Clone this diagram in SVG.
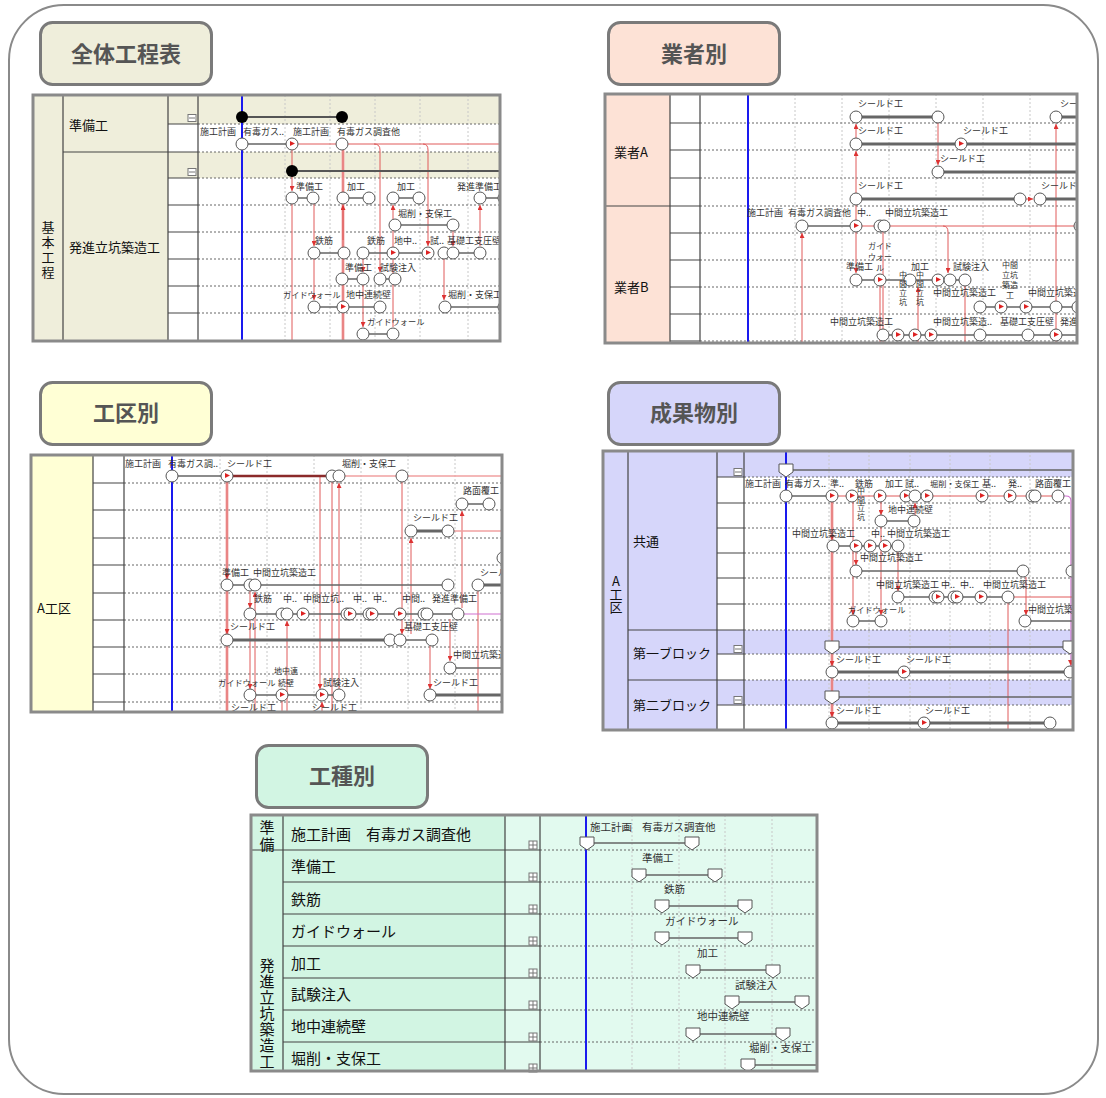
<svg xmlns="http://www.w3.org/2000/svg" width="1106" height="1098" viewBox="0 0 1106 1098">
<style>
text{font-family:"Noto Sans CJK JP","Noto Sans",sans-serif;}
.ttl{font-size:22px;font-weight:bold;fill:#555;text-anchor:middle;}
.tb{stroke:#7a7a7a;stroke-width:3;}
.h{font-size:13px;fill:#111;}
.h5{font-size:15px;fill:#111;}
.l{font-size:9px;fill:#333;}
.g{font-size:8.2px;fill:#333;}
.l5{font-size:10.5px;fill:#333;}
.w{font-size:8px;fill:#333;text-anchor:middle;}
.v{writing-mode:vertical-rl;text-orientation:upright;}
.fr{fill:none;stroke:#8a8a8a;stroke-width:3;}
.sl{stroke:#444;stroke-width:1.2;fill:none;}
.rw{stroke:#666;stroke-width:1;stroke-dasharray:2 2;fill:none;}
.gd{stroke:#c8c8c8;stroke-width:1;stroke-dasharray:2 2;fill:none;}
.bl{stroke:#1a1aee;stroke-width:2;}
.br{stroke:#666;stroke-width:1.5;fill:none;}
.bt{stroke:#666;stroke-width:3;fill:none;}
.rd{stroke:#e05a5a;stroke-width:1;fill:none;}
.pk{stroke:#f2b0b0;stroke-width:3;fill:none;}
.pt{stroke:#f0a0a0;stroke-width:1.5;fill:none;}
.mg{stroke:#d070d0;stroke-width:1.2;fill:none;}
</style>
<defs>
<marker id="a" viewBox="0 0 6 6" refX="6" refY="3" markerWidth="5" markerHeight="5" orient="auto"><path d="M0,0L6,3L0,6Z" fill="#d33"/></marker>
<circle id="c" r="6" fill="#fff" stroke="#555"/>
<g id="f"><circle r="6" fill="#fff" stroke="#555"/><path d="M-2,-3L3,-0.5L-2,2Z" fill="#d22"/></g>
<circle id="k" r="6" fill="#000"/>
<path id="p" d="M-7,0H7V8L0,13L-7,8Z" fill="#fff" stroke="#555"/>
<g id="m"><rect x="-4" y="-3.5" width="8" height="7" fill="#fff" stroke="#777"/><line x1="-3" y1="0" x2="3" y2="0" stroke="#777"/></g>
<g id="pl"><rect x="-4" y="-4" width="8" height="8" fill="#fff" stroke="#777"/><path d="M-4,0H4M0,-4V4" stroke="#777"/></g>
<clipPath id="cp1"><rect x="198" y="95" width="302" height="246"/></clipPath>
<clipPath id="cp2"><rect x="700" y="94" width="377" height="249"/></clipPath>
<clipPath id="cp3"><rect x="124" y="455" width="378" height="257"/></clipPath>
<clipPath id="cp4"><rect x="744" y="451" width="329" height="279"/></clipPath>
<clipPath id="cp5"><rect x="540" y="815" width="277" height="256"/></clipPath>
</defs>

<rect x="9" y="5" width="1089" height="1089" rx="55" fill="#fff" stroke="#8a8a8a" stroke-width="2"/>

<g id="t1"><rect x="40.5" y="22.5" width="171" height="62" rx="12" fill="#efeedb" class="tb"/><text x="126" y="62" class="ttl">全体工程表</text></g>
<g id="t2"><rect x="608.5" y="22.5" width="171" height="62" rx="12" fill="#fde2d6" class="tb"/><text x="694" y="62" class="ttl">業者別</text></g>
<g id="t3"><rect x="40.5" y="382.5" width="171" height="62" rx="12" fill="#ffffd5" class="tb"/><text x="126" y="421" class="ttl">工区別</text></g>
<g id="t4"><rect x="608.5" y="382.5" width="171" height="62" rx="12" fill="#d6d6fa" class="tb"/><text x="694" y="421" class="ttl">成果物別</text></g>
<g id="t5"><rect x="256.5" y="745.5" width="171" height="62" rx="12" fill="#d2f5e3" class="tb"/><text x="342" y="784" class="ttl">工種別</text></g>

<!-- Panel 1 -->
<g id="n1">
<rect x="33" y="95" width="467" height="246" fill="#fff"/>
<rect x="33" y="95" width="135" height="246" fill="#efeedb"/>
<rect x="168" y="95" width="332" height="29" fill="#efeedb"/>
<rect x="168" y="152" width="332" height="26" fill="#efeedb"/>
<g clip-path="url(#cp1)">
<path class="gd" d="M285,95V341M330,95V341M375,95V341M420,95V341M468,95V341"/>
<path class="rw" d="M198,124H500M198,152H500M198,178H500M198,205H500M198,232H500M198,259H500M198,286H500M198,313H500"/>
<line class="bl" x1="242" y1="95" x2="242" y2="341"/>
<g id="e1">
<path class="pk" d="M343,150V341"/>
<path class="rd" d="M343,150V341"/>
<path class="rd" d="M343,240V205" marker-end="url(#a)"/>
<path class="rd" d="M298,144H500"/>
<path class="rd" d="M374,144Q380,144 380,150V272" marker-end="url(#a)"/>
<path class="rd" d="M423,144Q428,144 428,150V246" marker-end="url(#a)"/>
<path class="rd" d="M292,150V191" marker-end="url(#a)"/>
<path class="rd" d="M292,204V341"/>
<path class="rd" d="M314,204V246" marker-end="url(#a)"/>
<path class="rd" d="M314,259V300" marker-end="url(#a)"/>
<path class="rd" d="M363,259V272" marker-end="url(#a)"/>
<path class="rd" d="M363,285V327" marker-end="url(#a)"/>
<path class="rd" d="M393,327V205" marker-end="url(#a)"/>
<path class="rd" d="M444,259V300" marker-end="url(#a)"/>
<path class="rd" d="M480,246V205" marker-end="url(#a)"/>
<path class="rd" d="M453,231V246" marker-end="url(#a)"/>
</g>
<path d="M242,117H342M292,171H500" stroke="#555" stroke-width="2"/>
<path class="br" d="M248,144H286M298,198H307M349,198H363M399,198H413M486,198H500M401,225H447M320,253H338M369,253H387M399,253H422M459,253H474M348,279H357M386,279H389M320,307H374M451,307H500M369,334H387"/>
<use href="#k" x="242" y="117"/><use href="#k" x="342" y="117"/><use href="#k" x="292" y="171"/>
<use href="#c" x="242" y="144"/><use href="#f" x="292" y="144"/><use href="#c" x="342" y="144"/>
<use href="#c" x="292" y="198"/><use href="#c" x="313" y="198"/><use href="#c" x="343" y="198"/><use href="#c" x="369" y="198"/><use href="#c" x="393" y="198"/><use href="#c" x="419" y="198"/><use href="#c" x="480" y="198"/><use href="#c" x="504" y="198"/>
<use href="#c" x="395" y="225"/><use href="#c" x="453" y="225"/>
<use href="#c" x="314" y="253"/><use href="#c" x="344" y="253"/><use href="#c" x="363" y="253"/><use href="#f" x="393" y="253"/><use href="#f" x="428" y="253"/><use href="#c" x="444" y="253"/><use href="#c" x="453" y="253"/><use href="#c" x="480" y="253"/>
<use href="#c" x="342" y="279"/><use href="#c" x="363" y="279"/><use href="#c" x="380" y="279"/><use href="#c" x="395" y="279"/>
<use href="#c" x="314" y="307"/><use href="#f" x="343" y="307"/><use href="#c" x="380" y="307"/><use href="#c" x="445" y="307"/><use href="#c" x="504" y="307"/>
<use href="#c" x="363" y="334"/><use href="#c" x="393" y="334"/>
<text class="l" x="200" y="135">施工計画</text><text class="l" x="243" y="135">有毒ガス..</text><text class="l" x="293" y="135">施工計画</text><text class="l" x="337" y="135">有毒ガス調査他</text>
<text class="l" x="296" y="190">準備工</text><text class="l" x="347" y="190">加工</text><text class="l" x="397" y="190">加工</text><text class="l" x="457" y="190">発進準備工</text>
<text class="l" x="398" y="217">堀削・支保工</text>
<text class="l" x="315" y="244">鉄筋</text><text class="l" x="367" y="244">鉄筋</text><text class="l" x="394" y="244">地中..</text><text class="l" x="430" y="244">試..</text><text class="l" x="447" y="244">基礎工支圧壁</text>
<text class="l" x="345" y="271">準備工</text><text class="l" x="380" y="271">試験注入</text>
<text class="g" x="283" y="298">ガイドウォール</text><text class="l" x="346" y="298">地中連続壁</text><text class="l" x="448" y="298">堀削・支保工</text>
<text class="g" x="367" y="325">ガイドウォール</text>
</g>
<path class="sl" d="M168,124H198M63,152H198M168,178H198M168,205H198M168,232H198M168,259H198M168,286H198M168,313H198M63,95V341M168,95V341M198,95V341"/>
<use href="#m" x="192" y="118"/><use href="#m" x="192" y="172"/>
<text class="h" x="69" y="130">準備工</text>
<text class="h" x="69" y="252">発進立坑築造工</text>
<text class="h v" x="48" y="220.5" letter-spacing="2">基本工程</text>
<rect class="fr" x="33" y="95" width="467" height="246"/>
</g>

<!-- Panel 2 -->
<g id="n2">
<rect x="605" y="94" width="472" height="249" fill="#fff"/>
<rect x="605" y="94" width="65" height="249" fill="#fde2d6"/>
<g clip-path="url(#cp2)">
<path class="gd" d="M795,94V343M842,94V343M889,94V343M936,94V343M983,94V343M1030,94V343"/>
<path class="rw" d="M700,123H1077M700,150H1077M700,178H1077M700,206H1077M700,233H1077M700,260H1077M700,287H1077M700,314H1077M700,341H1077"/>
<line class="bl" x1="748" y1="94" x2="748" y2="343"/>
<g id="e2">
<path class="rd" d="M856,220V205"/>
<path class="rd" d="M856,193V151" marker-end="url(#a)"/>
<path class="rd" d="M856,138V124" marker-end="url(#a)"/>
<path class="rd" d="M856,232V273" marker-end="url(#a)"/>
<path class="rd" d="M938,123V165" marker-end="url(#a)"/>
<path class="rd" d="M1056,343V124" marker-end="url(#a)"/>
<path class="rd" d="M883,232V343"/>
<path class="rd" d="M862,226H1077"/>
<path class="rd" d="M943,226Q948,226 948,232V273" marker-end="url(#a)"/>
<path class="rd" d="M802,343V233" marker-end="url(#a)"/>
<path class="rd" d="M880,286V343"/>
<path class="rd" d="M918,343V287" marker-end="url(#a)"/>
<path class="rd" d="M965,286V343"/>
<path class="rd" d="M1026,199H1033" marker-end="url(#a)"/>
</g>
<path class="bt" d="M862,117H932M1062,117H1077M862,144H1077M944,172H1077M862,199H1014M1046,199H1077"/>
<path class="br" d="M808,226H850M862,280H874M886,280H904M916,280H932M944,280H959M986,307H1077M889,335H974M986,335H1022M1034,335H1050M1062,335H1077"/>
<use href="#c" x="856" y="117"/><use href="#c" x="938" y="117"/><use href="#c" x="1056" y="117"/>
<use href="#c" x="856" y="144"/><use href="#f" x="961" y="144"/>
<use href="#c" x="938" y="172"/>
<use href="#c" x="856" y="199"/><use href="#c" x="1020" y="199"/><use href="#c" x="1040" y="199"/>
<use href="#c" x="802" y="226"/><use href="#f" x="856" y="226"/><use href="#c" x="880" y="226"/><use href="#c" x="884" y="226"/><use href="#c" x="1080" y="226"/>
<use href="#c" x="856" y="280"/><use href="#f" x="880" y="280"/><use href="#c" x="910" y="280"/><use href="#f" x="938" y="280"/><use href="#c" x="950" y="280"/><use href="#c" x="965" y="280"/>
<use href="#c" x="980" y="307"/><use href="#f" x="1001" y="307"/><use href="#f" x="1026" y="307"/><use href="#c" x="1056" y="307"/><use href="#c" x="1078" y="307"/>
<use href="#c" x="883" y="335"/><use href="#f" x="898" y="335"/><use href="#f" x="915" y="335"/><use href="#f" x="931" y="335"/><use href="#c" x="980" y="335"/><use href="#c" x="1028" y="335"/><use href="#f" x="1056" y="335"/>
<text class="l" x="858" y="107">シールド工</text><text class="l" x="1060" y="107">シールド工</text>
<text class="l" x="858" y="134">シールド工</text><text class="l" x="963" y="134">シールド工</text>
<text class="l" x="940" y="162">シールド工</text>
<text class="l" x="858" y="189">シールド工</text><text class="l" x="1041" y="189">シールド工</text>
<text class="l" x="747" y="216">施工計画</text><text class="l" x="788" y="216">有毒ガス調査他</text><text class="l" x="857" y="216">中..</text><text class="l" x="885" y="216">中間立坑築造工</text>
<text class="w" text-anchor="start"><tspan x="880" y="249">ガイド</tspan><tspan x="880" y="260">ウォー</tspan><tspan x="880" y="271">ル</tspan></text>
<text class="l" x="846" y="270">準備工</text><text class="l" x="911" y="270">加工</text><text class="l" x="953" y="270">試験注入</text>
<text class="w"><tspan x="1010" y="268">中間</tspan><tspan x="1010" y="278">立坑</tspan><tspan x="1010" y="288">築造</tspan><tspan x="1010" y="298">工</tspan></text>
<text class="w v" x="903" y="289" letter-spacing="0.8">中間立坑</text>
<text class="w v" x="920" y="289" letter-spacing="0.8">中間立坑</text>
<text class="l" x="933" y="296">中間立坑築造工</text><text class="l" x="1028" y="296">中間立坑築造工</text>
<text class="l" x="830" y="325">中間立坑築造工</text><text class="l" x="933" y="325">中間立坑築造..</text><text class="l" x="1000" y="325">基礎工支圧壁</text><text class="l" x="1060" y="325">発進</text>
</g>
<path class="sl" d="M670,94V343M700,94V343M670,123H700M670,150H700M670,178H700M605,206H700M670,233H700M670,260H700M670,287H700M670,314H700M670,341H700"/>
<text class="h" x="614" y="157">業者A</text>
<text class="h" x="614" y="292">業者B</text>
<rect class="fr" x="605" y="94" width="472" height="249"/>
</g>

<!-- Panel 3 -->
<g id="n3">
<rect x="31" y="455" width="471" height="257" fill="#fff"/>
<rect x="31" y="455" width="62" height="257" fill="#ffffd5"/>
<g clip-path="url(#cp3)">
<path class="gd" d="M220,455V712M267,455V712M314,455V712M361,455V712M408,455V712M455,455V712"/>
<path class="rw" d="M124,483H502M124,510H502M124,538H502M124,565H502M124,593H502M124,620H502M124,647H502M124,674H502M124,702H502"/>
<line class="bl" x1="172" y1="455" x2="172" y2="712"/>
<g id="e3">
<path class="pk" d="M227,482V712"/>
<path class="rd" d="M227,482V579" marker-end="url(#a)"/>
<path class="rd" d="M227,591V634" marker-end="url(#a)"/>
<path class="rd" d="M227,646V712"/>
<path class="rd" d="M250,591V608" marker-end="url(#a)"/>
<path class="rd" d="M250,620V689" marker-end="url(#a)"/>
<path class="rd" d="M255,712V592" marker-end="url(#a)"/>
<path class="rd" d="M287,712V621" marker-end="url(#a)"/>
<path class="rd" d="M282,701V712"/>
<path class="rd" d="M320,477V689" marker-end="url(#a)"/>
<path class="rd" d="M332,482V712"/>
<path class="rd" d="M339,689V483" marker-end="url(#a)"/>
<path class="pt" d="M345,476H502"/>
<path class="rd" d="M402,482V634" marker-end="url(#a)"/>
<path class="rd" d="M411,634V538" marker-end="url(#a)"/>
<path class="rd" d="M462,608V511" marker-end="url(#a)"/>
<path class="rd" d="M450,619V661" marker-end="url(#a)"/>
<path class="rd" d="M430,646V689" marker-end="url(#a)"/>
<path class="rd" d="M478,591V712"/>
<path class="rd" d="M322,712V702" marker-end="url(#a)"/>
<path class="pt" d="M454,531H502"/>
<path class="mg" d="M464,614H502"/>
</g>
<path d="M233,476H326" stroke="#8b2a2a" stroke-width="2.5"/>
<path class="bt" d="M417,531H442M484,585H502M233,640H384M436,695H502"/>
<path class="br" d="M178,476H221M468,504H483M233,585H244M261,585H442M256,614H452M406,640H426M456,668H502M256,695H333"/>
<use href="#c" x="172" y="476"/><use href="#f" x="227" y="476"/><use href="#c" x="332" y="476"/><use href="#c" x="339" y="476"/><use href="#c" x="402" y="476"/>
<use href="#c" x="462" y="504"/><use href="#c" x="489" y="504"/>
<use href="#c" x="411" y="531"/><use href="#c" x="448" y="531"/>
<use href="#c" x="503" y="558"/>
<use href="#c" x="227" y="585"/><use href="#c" x="250" y="585"/><use href="#c" x="255" y="585"/><use href="#c" x="448" y="585"/><use href="#c" x="478" y="585"/>
<use href="#c" x="250" y="614"/><use href="#c" x="282" y="614"/><use href="#c" x="287" y="614"/><use href="#f" x="303" y="614"/><use href="#c" x="347" y="614"/><use href="#f" x="350" y="614"/><use href="#c" x="369" y="614"/><use href="#f" x="372" y="614"/><use href="#f" x="400" y="614"/><use href="#c" x="424" y="614"/><use href="#c" x="427" y="614"/><use href="#c" x="458" y="614"/>
<use href="#c" x="227" y="640"/><use href="#c" x="390" y="640"/><use href="#c" x="400" y="640"/><use href="#c" x="432" y="640"/>
<use href="#c" x="450" y="668"/>
<use href="#c" x="250" y="695"/><use href="#f" x="282" y="695"/><use href="#f" x="322" y="695"/><use href="#c" x="339" y="695"/><use href="#c" x="430" y="695"/>
<text class="l" x="125" y="467">施工計画</text><text class="l" x="168" y="467">有毒ガス調..</text><text class="l" x="227" y="467">シールド工</text><text class="l" x="342" y="467">堀削・支保工</text>
<text class="l" x="463" y="494">路面覆工</text>
<text class="l" x="413" y="521">シールド工</text>
<text class="l" x="222" y="576">準備工</text><text class="l" x="253" y="576">中間立坑築造工</text><text class="l" x="480" y="576">シールド工</text>
<text class="l" x="254" y="602">鉄筋</text><text class="l" x="283" y="602">中..</text><text class="l" x="303" y="602">中間立坑..</text><text class="l" x="353" y="602">中..</text><text class="l" x="373" y="602">中..</text><text class="l" x="402" y="602">中間..</text><text class="l" x="432" y="602">発進準備工</text>
<text class="l" x="230" y="630">シールド工</text><text class="l" x="404" y="630">基礎工支圧壁</text>
<text class="l" x="453" y="658">中間立坑築造工</text>
<text class="w" text-anchor="start"><tspan x="286" y="674">地中連</tspan><tspan x="286" y="686">続壁</tspan></text>
<text class="g" x="218" y="686" font-size="7.8">ガイドウォール</text><text class="l" x="323" y="686">試験注入</text><text class="l" x="433" y="686">シールド工</text>
<text class="l" x="231" y="711">シールド工</text><text class="l" x="312" y="711">シールド工</text>
</g>
<path class="sl" d="M93,455V712M124,455V712M93,483H124M93,510H124M93,538H124M93,565H124M93,593H124M93,620H124M93,647H124M93,674H124M93,702H124"/>
<text class="h" x="37" y="613">A工区</text>
<rect class="fr" x="31" y="455" width="471" height="257"/>
</g>

<!-- Panel 4 -->
<g id="n4">
<rect x="603" y="451" width="470" height="279" fill="#fff"/>
<rect x="603" y="451" width="114" height="279" fill="#d6d6fa"/>
<rect x="717" y="451" width="356" height="26" fill="#d6d6fa"/>
<rect x="717" y="630" width="356" height="24" fill="#d6d6fa"/>
<rect x="717" y="680" width="356" height="25" fill="#d6d6fa"/>
<g clip-path="url(#cp4)">
<path class="gd" d="M829,451V730M869,451V730M910,451V730M950,451V730M990,451V730M1030,451V730"/>
<path class="rw" d="M744,477H1073M744,503H1073M744,528H1073M744,553H1073M744,578H1073M744,604H1073M744,630H1073M744,654H1073M744,680H1073M744,705H1073"/>
<line class="bl" x1="786" y1="451" x2="786" y2="730"/>
<g id="e4">
<path class="pk" d="M832,502V730"/>
<path class="rd" d="M832,502V540" marker-end="url(#a)"/>
<path class="rd" d="M832,552V666" marker-end="url(#a)"/>
<path class="rd" d="M832,678V717" marker-end="url(#a)"/>
<path class="rd" d="M838,496H1058"/>
<path class="mg" d="M1058,496H1066Q1071,496 1071,501V666" marker-end="url(#a)"/>
<path class="rd" d="M853,502V615" marker-end="url(#a)"/>
<path class="rd" d="M856,552V565" marker-end="url(#a)"/>
<path class="rd" d="M881,502V515" marker-end="url(#a)"/>
<path class="rd" d="M881,527V615" marker-end="url(#a)"/>
<path class="rd" d="M898,552V591" marker-end="url(#a)"/>
<path class="rd" d="M915,515V503" marker-end="url(#a)"/>
<path class="rd" d="M1014,597H1073"/>
<path class="rd" d="M1008,603V730"/>
<path class="rd" d="M1026,577V615" marker-end="url(#a)"/>
</g>
<path class="br" d="M792,470H1073M792,496H826M887,521H908M839,546H892M862,571H1017M904,597H1002M859,621H875M1031,621H1073M838,647H1064M838,697H1073"/>
<path class="bt" d="M838,672H1064M838,723H1044"/>
<use href="#p" x="786" y="464"/><use href="#p" x="832" y="641"/><use href="#p" x="1070" y="641"/><use href="#p" x="832" y="691"/>
<use href="#c" x="786" y="496"/><use href="#f" x="832" y="496"/><use href="#f" x="852" y="496"/><use href="#f" x="880" y="496"/><use href="#f" x="906" y="496"/><use href="#c" x="915" y="496"/><use href="#f" x="927" y="496"/><use href="#f" x="982" y="496"/><use href="#f" x="1010" y="496"/><use href="#c" x="1032" y="496"/><use href="#c" x="1035" y="496"/><use href="#c" x="1058" y="496"/>
<use href="#c" x="881" y="521"/><use href="#c" x="914" y="521"/>
<use href="#c" x="833" y="546"/><use href="#f" x="856" y="546"/><use href="#f" x="870" y="546"/><use href="#f" x="885" y="546"/><use href="#c" x="898" y="546"/>
<use href="#c" x="856" y="571"/><use href="#c" x="1023" y="571"/><use href="#c" x="1072" y="571"/>
<use href="#c" x="898" y="597"/><use href="#c" x="935" y="597"/><use href="#f" x="938" y="597"/><use href="#c" x="954" y="597"/><use href="#f" x="957" y="597"/><use href="#f" x="981" y="597"/><use href="#c" x="1008" y="597"/>
<use href="#c" x="853" y="621"/><use href="#c" x="881" y="621"/><use href="#c" x="1025" y="621"/>
<use href="#c" x="832" y="672"/><use href="#f" x="904" y="672"/><use href="#c" x="1070" y="672"/>
<use href="#c" x="832" y="723"/><use href="#f" x="924" y="723"/><use href="#c" x="1050" y="723"/>
<text class="l" x="745" y="487">施工計画</text><text class="l" x="785" y="487">有毒ガス..</text><text class="l" x="830" y="487">準..</text><text class="l" x="855" y="487">鉄筋</text><text class="l" x="885" y="487">加工</text><text class="l" x="905" y="487">試..</text><text class="g" x="930" y="487">堀削・支保工</text><text class="l" x="982" y="487">基..</text><text class="l" x="1008" y="487">発..</text><text class="l" x="1035" y="487">路面覆工</text>
<text class="w v" x="861" y="504" letter-spacing="0.5">中間立坑</text>
<text class="l" x="888" y="513">地中連続壁</text>
<text class="l" x="792" y="537">中間立坑築造工</text><text class="l" x="871" y="537">中..</text><text class="l" x="887" y="537">中間立坑築造工</text>
<text class="l" x="860" y="561">中間立坑築造工</text>
<text class="l" x="876" y="588">中間立坑築造工</text><text class="l" x="941" y="588">中..</text><text class="l" x="960" y="588">中..</text><text class="l" x="983" y="588">中間立坑築造工</text>
<text class="g" x="848" y="613">ガイドウォール</text><text class="l" x="1028" y="613">中間立坑築造工</text>
<text class="l" x="836" y="663">シールド工</text><text class="l" x="906" y="663">シールド工</text>
<text class="l" x="836" y="714">シールド工</text><text class="l" x="925" y="714">シールド工</text>
</g>
<path class="sl" d="M628,451V730M717,451V730M744,451V730M717,477H744M717,503H744M717,528H744M717,553H744M717,578H744M717,604H744M628,630H744M717,654H744M628,680H744M717,705H744"/>
<use href="#m" x="738" y="472"/><use href="#m" x="738" y="649"/><use href="#m" x="738" y="700"/>
<text class="h v" x="616" y="575" font-size="12">A工区</text>
<text class="h" x="633" y="546">共通</text>
<text class="h" x="633" y="658">第一ブロック</text>
<text class="h" x="633" y="710">第二ブロック</text>
<rect class="fr" x="603" y="451" width="470" height="279"/>
</g>

<!-- Panel 5 -->
<g id="n5">
<rect x="251" y="815" width="566" height="256" fill="#e2faef"/>
<rect x="251" y="815" width="254" height="256" fill="#d2f5e3"/>
<g clip-path="url(#cp5)">
<path class="gd" d="M632,815V1071M679,815V1071M725,815V1071M772,815V1071"/>
<path class="rw" d="M540,850H817M540,882H817M540,914H817M540,946H817M540,978H817M540,1010H817M540,1042H817"/>
<line class="bl" x1="586" y1="815" x2="586" y2="1071"/>
<path class="br" d="M594,843H685M646,875H708M669,906H738M669,938H738M700,970H766M739,1002H795M700,1034H776M755,1065H817"/>
<use href="#p" x="587" y="837"/><use href="#p" x="692" y="837"/>
<use href="#p" x="639" y="869"/><use href="#p" x="715" y="869"/>
<use href="#p" x="662" y="900"/><use href="#p" x="745" y="900"/>
<use href="#p" x="662" y="932"/><use href="#p" x="745" y="932"/>
<use href="#p" x="693" y="965"/><use href="#p" x="773" y="965"/>
<use href="#p" x="732" y="996"/><use href="#p" x="802" y="996"/>
<use href="#p" x="693" y="1028"/><use href="#p" x="783" y="1028"/>
<use href="#p" x="748" y="1059"/>
<text class="l5" x="590" y="831">施工計画</text><text class="l5" x="642" y="831">有毒ガス調査他</text>
<text class="l5" x="642" y="862">準備工</text>
<text class="l5" x="664" y="893">鉄筋</text>
<text class="l5" x="665" y="925">ガイドウォール</text>
<text class="l5" x="697" y="957">加工</text>
<text class="l5" x="735" y="989">試験注入</text>
<text class="l5" x="697" y="1020">地中連続壁</text>
<text class="l5" x="749" y="1052">堀削・支保工</text>
</g>
<path class="sl" d="M283,815V1071M505,815V1071M540,815V1071M251,850H540M283,882H540M283,914H540M283,946H540M283,978H540M283,1010H540M283,1042H540"/>
<use href="#pl" x="533" y="845"/><use href="#pl" x="533" y="877"/><use href="#pl" x="533" y="909"/><use href="#pl" x="533" y="941"/><use href="#pl" x="533" y="973"/><use href="#pl" x="533" y="1005"/><use href="#pl" x="533" y="1037"/><use href="#pl" x="533" y="1068"/>
<text class="h5 v" x="267" y="819.5" letter-spacing="2">準備</text>
<text class="h5 v" x="267" y="957.5" letter-spacing="1">発進立坑築造工</text>
<text class="h5" x="291" y="840">施工計画</text><text class="h5" x="366" y="840">有毒ガス調査他</text>
<text class="h5" x="291" y="872">準備工</text>
<text class="h5" x="291" y="905">鉄筋</text>
<text class="h5" x="291" y="937">ガイドウォール</text>
<text class="h5" x="291" y="969">加工</text>
<text class="h5" x="291" y="1000">試験注入</text>
<text class="h5" x="291" y="1032">地中連続壁</text>
<text class="h5" x="291" y="1064">堀削・支保工</text>
<rect class="fr" x="251" y="815" width="566" height="256"/>
</g>
</svg>
